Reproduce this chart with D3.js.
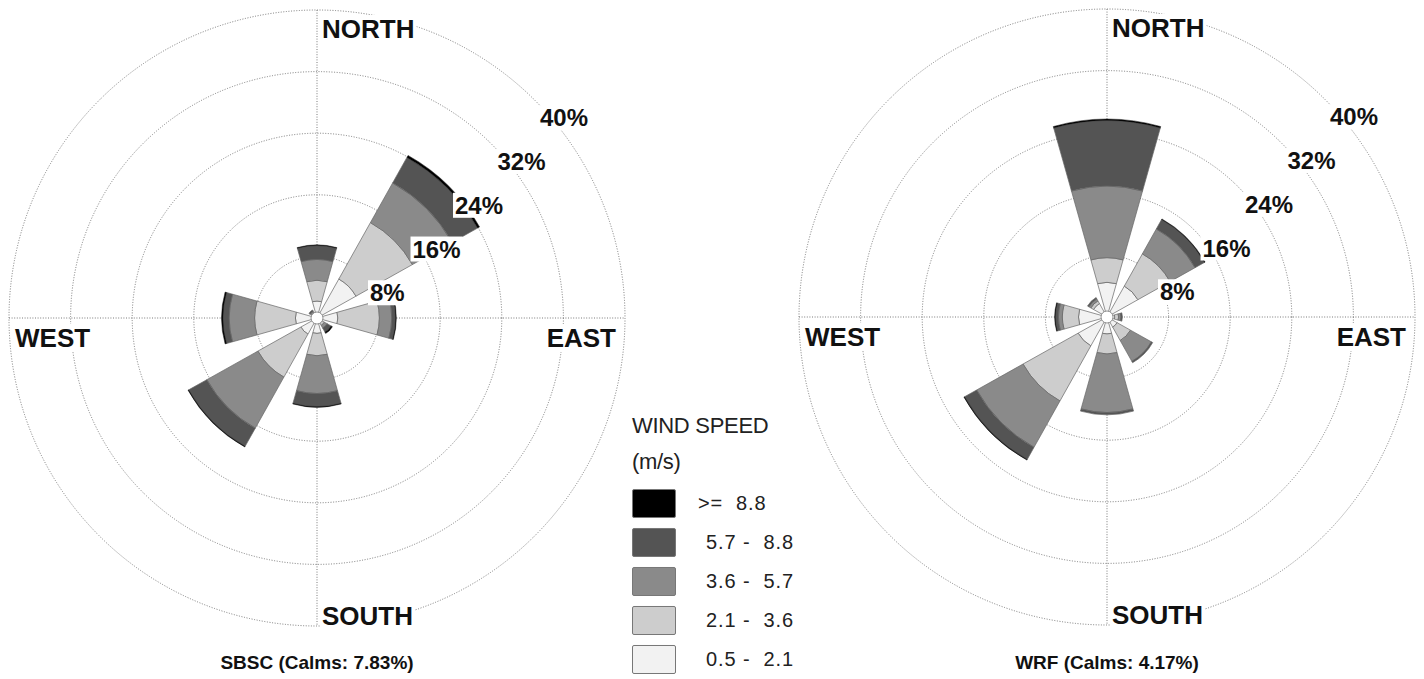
<!DOCTYPE html>
<html>
<head>
<meta charset="utf-8">
<script src="https://cdn.jsdelivr.net/npm/d3@7"></script>
<style>
  html, body { margin: 0; padding: 0; background: #fff; }
  svg { display: block; }
  text { font-family: "Liberation Sans", Arial, sans-serif; }
</style>
</head>
<body>
<svg id="chart" width="1424" height="679"></svg>
<script>
// Wind directions (8 sectors, clockwise from north)
const directions = ["N", "NE", "E", "SE", "S", "SW", "W", "NW"];
const directionAngles = [0, 45, 90, 135, 180, 225, 270, 315];

// Wind speed classes (m/s), innermost first
const speedClasses = ["0.5 -  2.1", "2.1 -  3.6", "3.6 -  5.7", "5.7 -  8.8", ">=  8.8"];
const speedColors = ["#f2f2f2", "#cdcdcd", "#8a8a8a", "#545454", "#000000"];

// Frequency (%) per direction for each speed class — SBSC observations
const sbscClass1 = [2.2, 5.8, 2.7, 0.6, 2.0, 2.4, 2.8, 0.4];
const sbscClass2 = [2.7, 8.4, 5.4, 0.5, 2.9, 6.4, 5.3, 0.3];
const sbscClass3 = [2.7, 5.9, 1.6, 0.4, 4.9, 7.6, 3.3, 0.3];
const sbscClass4 = [1.8, 3.8, 0.5, 0.6, 1.7, 2.7, 0.8, 0.2];
const sbscClass5 = [0.1, 0.3, 0.1, 0.2, 0.1, 0.1, 0.2, 0.0];

// Frequency (%) per direction for each speed class — WRF model
const wrfClass1 = [4.5, 4.6, 1.0, 1.5, 2.2, 4.3, 3.7, 2.0];
const wrfClass2 = [3.2, 4.8, 0.5, 2.0, 2.6, 8.2, 2.1, 0.4];
const wrfClass3 = [9.3, 3.7, 0.3, 3.1, 7.6, 6.9, 0.5, 0.3];
const wrfClass4 = [8.5, 1.4, 0.2, 0.2, 0.3, 1.8, 0.4, 0.2];
const wrfClass5 = [0.2, 0.1, 0.0, 0.0, 0.0, 0.1, 0.1, 0.0];

// Radial rings (%)
const ringTicks = [8, 16, 24, 32, 40];

const roses = [
  { title: "SBSC (Calms: 7.83%)", cx: 317, cy: 318,
    classes: [sbscClass1, sbscClass2, sbscClass3, sbscClass4, sbscClass5] },
  { title: "WRF (Calms: 4.17%)", cx: 1107, cy: 317,
    classes: [wrfClass1, wrfClass2, wrfClass3, wrfClass4, wrfClass5] }
];

const svg = d3.select("#chart");
const R = 308;
const rScale = d3.scaleLinear().domain([0, 40]).range([0, R]);
const halfWidth = 0.7 * 45 / 2 * Math.PI / 180;
const holeR = 6;
const arc = d3.arc();

function labelWithBox(g, x, y, text, opts) {
  const t = g.append("text")
    .attr("x", x).attr("y", y)
    .attr("text-anchor", opts.anchor || "start")
    .attr("font-size", opts.size)
    .attr("font-weight", opts.weight || "bold")
    .attr("fill", "#111")
    .text(text);
  const bb = t.node().getBBox();
  g.insert("rect", () => t.node())
    .attr("x", bb.x - 2).attr("y", bb.y + 1)
    .attr("width", bb.width + 4).attr("height", bb.height - 2)
    .attr("fill", "#fff");
  return t;
}

roses.forEach(rose => {
  const g = svg.append("g").attr("transform", `translate(${rose.cx},${rose.cy})`);

  // dotted grid rings and crosshair
  g.selectAll("circle.ring").data(ringTicks).join("circle")
    .attr("class", "ring")
    .attr("r", d => rScale(d))
    .attr("fill", "none")
    .attr("stroke", "#7a7a7a")
    .attr("stroke-width", 1)
    .attr("stroke-dasharray", "1,1.6");
  g.append("line").attr("x1", -R).attr("x2", R).attr("y1", 0).attr("y2", 0)
    .attr("stroke", "#7a7a7a").attr("stroke-dasharray", "1,1.6");
  g.append("line").attr("y1", -R).attr("y2", R).attr("x1", 0).attr("x2", 0)
    .attr("stroke", "#7a7a7a").attr("stroke-dasharray", "1,1.6");

  // stacked wind sectors
  const stackKeys = d3.range(speedClasses.length);
  const rows = directions.map((dir, i) => {
    const row = { dir, angle: directionAngles[i] };
    stackKeys.forEach(k => { row[k] = rose.classes[k][i]; });
    return row;
  });
  const stacked = d3.stack().keys(stackKeys)(rows);

  stacked.forEach((layer, k) => {
    g.append("g").selectAll("path").data(layer.filter(d => d[1] > d[0])).join("path")
      .attr("d", d => {
        const a = d.data.angle * Math.PI / 180;
        return arc({
          innerRadius: rScale(d[0]),
          outerRadius: rScale(d[1]),
          startAngle: a - halfWidth,
          endAngle: a + halfWidth
        });
      })
      .attr("fill", speedColors[k])
      .attr("stroke", k === 4 ? "#222" : "#666")
      .attr("stroke-width", k === 4 ? 0.5 : 0.7);
  });

  // calm hole
  g.append("circle").attr("r", holeR).attr("fill", "#fff")
    .attr("stroke", "#777").attr("stroke-width", 0.8);

  // ring percentage labels
  ringTicks.forEach(p => {
    const r = rScale(p);
    labelWithBox(g, 10.5 + 0.69 * r, 27 - 0.71 * r, p + "%", { size: 24 });
  });

  // compass labels
  labelWithBox(g, 5, -R + 28, "NORTH", { size: 26 });
  labelWithBox(g, 5, R - 1, "SOUTH", { size: 26 });
  labelWithBox(g, -R + 6, 29, "WEST", { size: 26 });
  labelWithBox(g, R - 9, 29, "EAST", { size: 26, anchor: "end" });

  // caption
  svg.append("text")
    .attr("x", rose.cx).attr("y", 669)
    .attr("text-anchor", "middle")
    .attr("font-size", 19).attr("font-weight", "bold")
    .attr("fill", "#111")
    .text(rose.title);
});

// legend
const legend = svg.append("g");
legend.append("text").attr("x", 632).attr("y", 433)
  .attr("font-size", 22).attr("letter-spacing", -0.3).attr("fill", "#222")
  .text("WIND SPEED");
legend.append("text").attr("x", 632).attr("y", 469)
  .attr("font-size", 22).attr("letter-spacing", -0.3).attr("fill", "#222")
  .text("(m/s)");

const legendOrder = d3.range(speedClasses.length).reverse();
const legendY = d3.scaleBand().domain(legendOrder).range([489, 673]).paddingInner(0.282).paddingOuter(0);
legendOrder.forEach(k => {
  const y = legendY(k);
  legend.append("rect")
    .attr("x", 632.5).attr("y", y + 0.5)
    .attr("width", 43).attr("height", legendY.bandwidth())
    .attr("rx", 1.5)
    .attr("fill", speedColors[k])
    .attr("stroke", "#777").attr("stroke-width", 1);
  legend.append("text")
    .attr("x", k === 4 ? 698 : 706)
    .attr("y", y + 21)
    .attr("font-size", 20)
    .attr("letter-spacing", 0.9)
    .attr("fill", "#222")
    .attr("xml:space", "preserve")
    .style("white-space", "pre")
    .text(speedClasses[k]);
});
</script>
</body>
</html>
